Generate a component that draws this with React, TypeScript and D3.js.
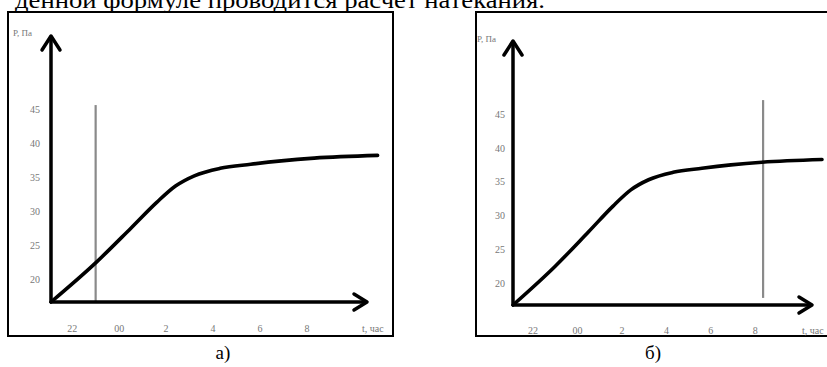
import React from "react";
import * as d3 from "d3";

// ---- data ----
const xTickHours = [22, 24, 26, 28, 30, 32];
const xTickLabels = ["22", "00", "2", "4", "6", "8"];
const yTicks = [20, 25, 30, 35, 40, 45];
const curveHours = [21.1, 23.0, 24.5, 25.6, 26.4, 27.2, 28.3, 29.6, 30.9, 32.3, 35.0];
const curvePressure = [16.75, 22.5, 27.6, 31.4, 33.8, 35.3, 36.4, 37.0, 37.5, 37.9, 38.3];
const markerHours = [23.0, 32.35];
const markerTop = [45.7, 47.1];
const markerBottom = [16.75, 17.8];
const panelLabels = ["а)", "б)"];
const yAxisTitle = "P, Па";
const xAxisTitle = "t, час";
const topText = "денной формуле проводится расчет натекания.";

const X_DOMAIN: [number, number] = [21.1, 34.55];
const Y_DOMAIN: [number, number] = [16.75, 56];
const SERIF = "'Liberation Serif', 'Times New Roman', 'DejaVu Serif', serif";

type PanelGeom = {
  frame: { x: number; y: number; w: number; h: number };
  ox: number; oy: number; xTip: number; yTip: number;
  yLabelX: number; xLabelY: number; titleX: number; titleY: number;
  xTitleX: number; captionX: number;
};

const panels: PanelGeom[] = [
  { frame: { x: 8, y: 12, w: 385, h: 324 }, ox: 51, oy: 302, xTip: 367, yTip: 35,
    yLabelX: 35, xLabelY: 328, titleX: 13, titleY: 36, xTitleX: 362, captionX: 223 },
  { frame: { x: 476, y: 12, w: 360, h: 324 }, ox: 513, oy: 305, xTip: 812, yTip: 40,
    yLabelX: 500, xLabelY: 330, titleX: 477, titleY: 42, xTitleX: 802, captionX: 653 },
];

function Panel({ g, i }: { g: PanelGeom; i: number }) {
  const x = d3.scaleLinear().domain(X_DOMAIN).range([g.ox, g.xTip]);
  const y = d3.scaleLinear().domain(Y_DOMAIN).range([g.oy, g.yTip]);
  const pts = curveHours.map((h, k) => [h, curvePressure[k]] as [number, number]);
  const line = d3.line<[number, number]>()
    .x((d) => x(d[0]))
    .y((d) => y(d[1]))
    .curve(d3.curveMonotoneX);
  const mx = x(markerHours[i]);
  const tipX = x(X_DOMAIN[1]);
  const tipY = y(Y_DOMAIN[1]);
  return (
    <g>
      <rect x={g.frame.x} y={g.frame.y} width={g.frame.w} height={g.frame.h}
        fill="none" stroke="#000" strokeWidth={2} />
      {/* marker */}
      <line x1={mx} x2={mx} y1={y(markerTop[i])} y2={y(markerBottom[i])}
        stroke="#8a8a8a" strokeWidth={2.2} />
      {/* axes */}
      <line x1={g.ox} x2={g.ox} y1={g.oy + 1} y2={tipY + 1} stroke="#000" strokeWidth={3.5} />
      <polyline points={`${g.ox - 9},${tipY + 15} ${g.ox},${tipY + 1} ${g.ox + 9},${tipY + 15}`}
        fill="none" stroke="#000" strokeWidth={3.5} strokeLinecap="round" strokeLinejoin="round" />
      <line x1={g.ox - 1} x2={tipX - 1} y1={g.oy} y2={g.oy} stroke="#000" strokeWidth={3.5} />
      <polyline points={`${tipX - 13},${g.oy - 8} ${tipX},${g.oy} ${tipX - 13},${g.oy + 8}`}
        fill="none" stroke="#000" strokeWidth={3.5} strokeLinecap="round" strokeLinejoin="round" />
      {/* curve */}
      <path d={line(pts) || ""} fill="none" stroke="#000" strokeWidth={3.6} strokeLinecap="round" />
      {/* tick labels */}
      {yTicks.map((v) => (
        <text key={v} x={g.yLabelX} y={y(v)} dy="0.35em" textAnchor="middle"
          fontFamily={SERIF} fontSize={10} fill="#777">{v}</text>
      ))}
      {xTickHours.map((h, k) => (
        <text key={h} x={x(h)} y={g.xLabelY} dy="0.35em" textAnchor="middle"
          fontFamily={SERIF} fontSize={10} fill="#777">{xTickLabels[k]}</text>
      ))}
      <text x={g.titleX} y={g.titleY} fontFamily={SERIF} fontSize={9} fill="#777">{yAxisTitle}</text>
      <text x={g.xTitleX} y={g.xLabelY} dy="0.35em" fontFamily={SERIF} fontSize={10} fill="#777">{xAxisTitle}</text>
      <text x={g.captionX} y={359} textAnchor="middle" fontFamily={SERIF} fontSize={19} fill="#000">{panelLabels[i]}</text>
    </g>
  );
}

export default function App() {
  return (
    <svg width={827} height={367} style={{ position: "absolute", left: 0, top: 0, background: "#fff" }}>
      <rect width={827} height={367} fill="#fff" />
      <text x={15} y={8} fontFamily={SERIF} fontSize={23} fill="#000"
        textLength={530} lengthAdjust="spacingAndGlyphs">{topText}</text>
      {panels.map((g, i) => <Panel key={i} g={g} i={i} />)}
    </svg>
  );
}
